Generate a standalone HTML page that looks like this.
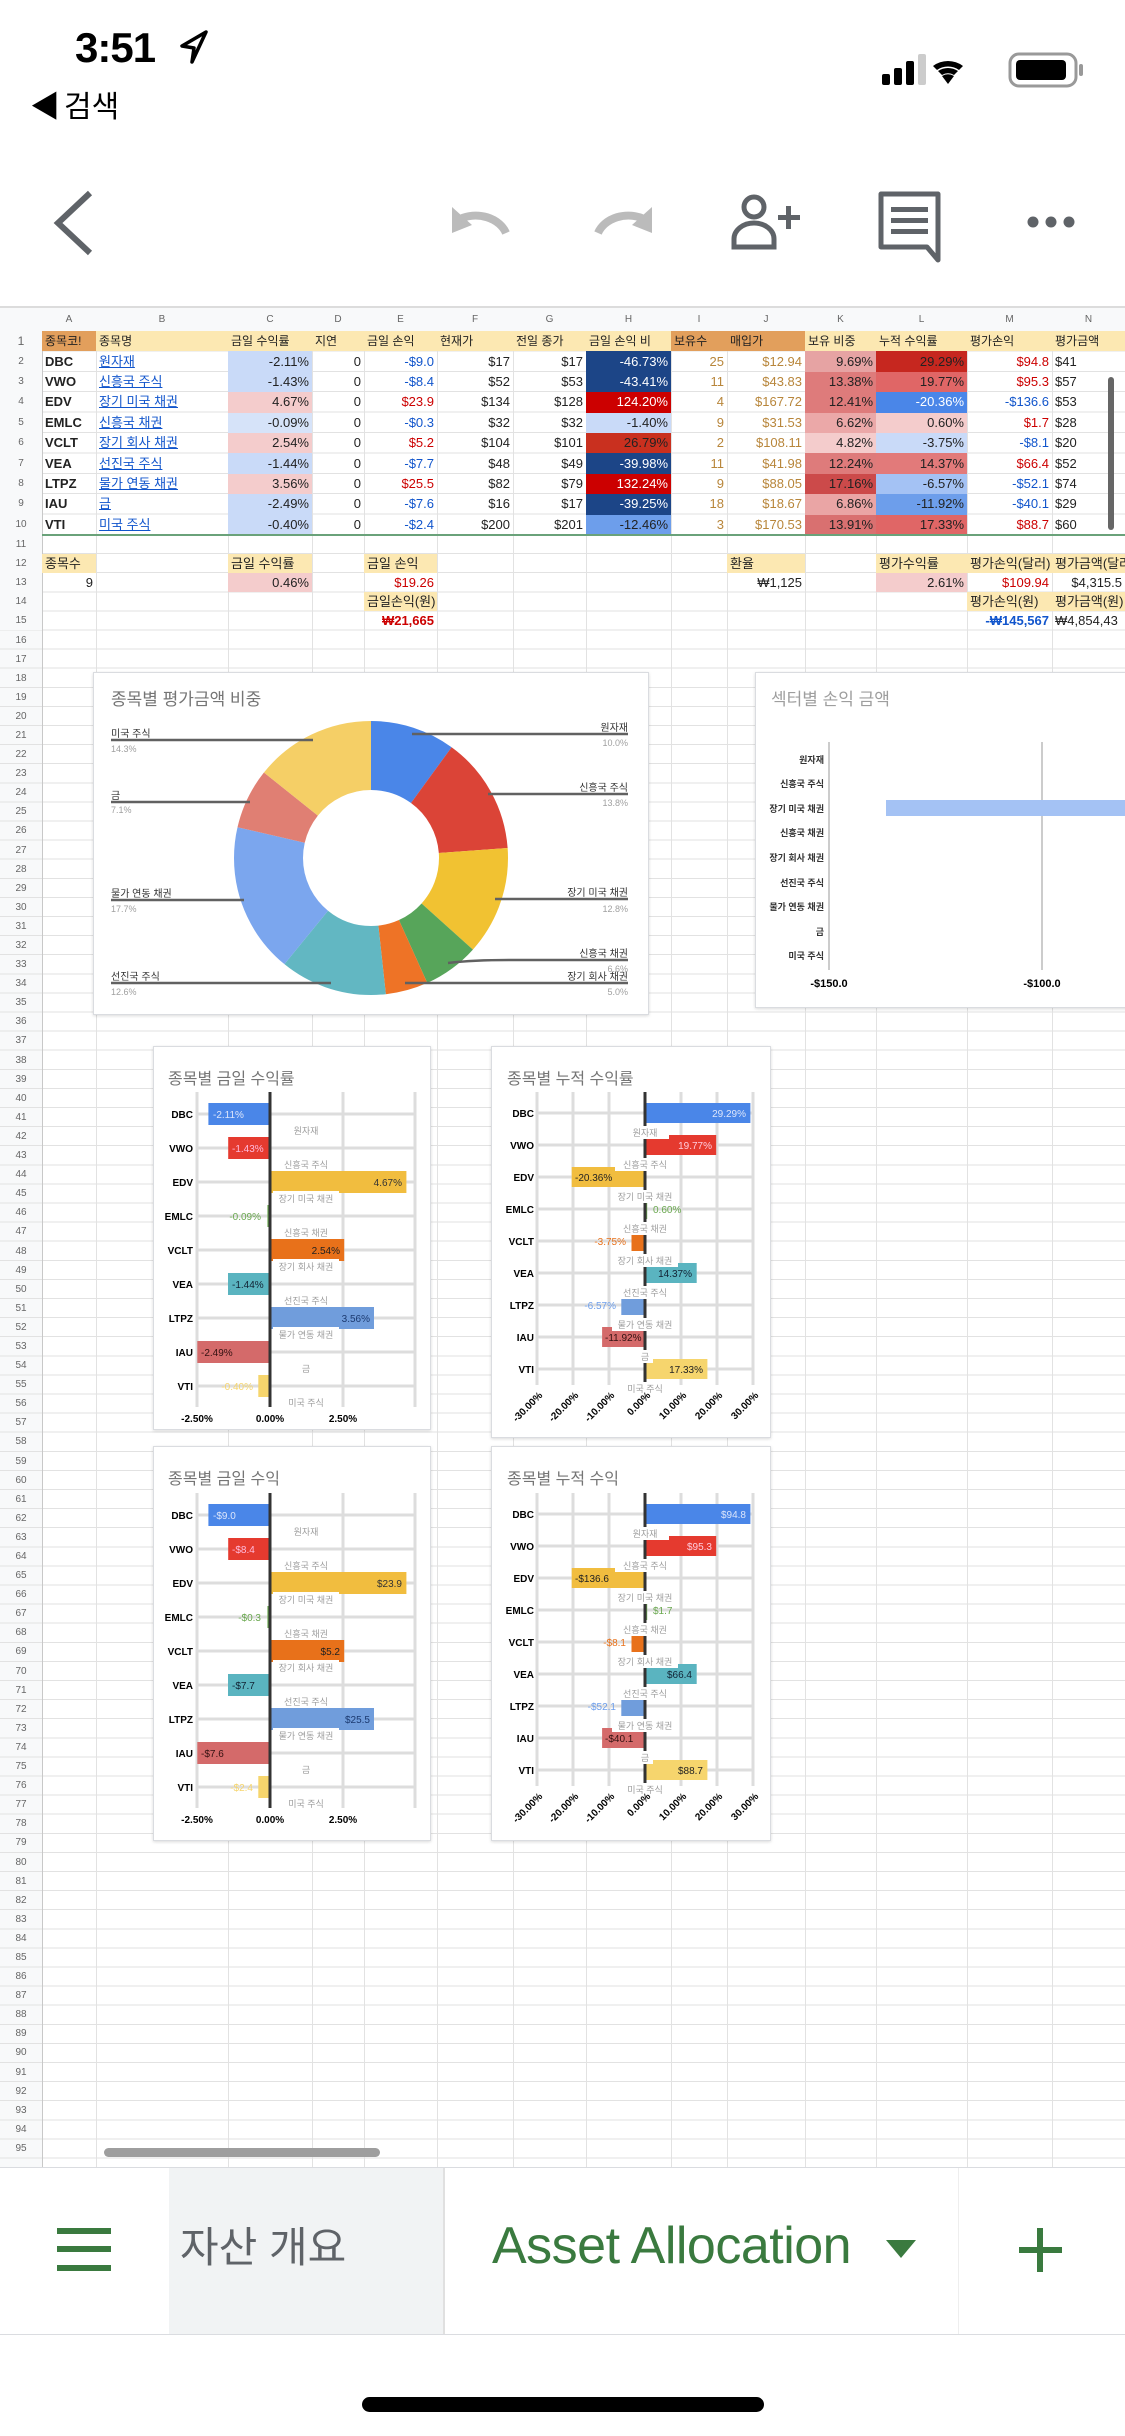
<!DOCTYPE html>
<html><head><meta charset="utf-8">
<style>
*{box-sizing:border-box}
body{margin:0;width:1125px;height:2436px;overflow:hidden;background:#fff;position:relative;font-family:"Liberation Sans","Noto Sans CJK KR",sans-serif}
.a{position:absolute}
.vl{position:absolute;top:308px;height:1859px;width:1px;background:#e2e2e2}
table{border-collapse:collapse;border-spacing:0;table-layout:fixed;position:absolute;left:0}
td{padding:0 3px;white-space:nowrap;overflow:hidden;font-family:"Liberation Sans Narrow","Liberation Sans","Noto Sans CJK KR",sans-serif;font-size:13px;color:#222;line-height:16px}
td.n{text-align:center;font-size:10px;color:#666;background:#f8f9fa;padding:0}
td.r{text-align:right}
.t1 tr{height:20.4px}
.t2 tr{height:19.1px}
.t1 tr:first-child td{font-size:12px}
.hd{background:#fce8b2}
.ho{background:#e29f5c}
.tk{font-weight:bold}
.lk{color:#1155cc;text-decoration:underline}
.bl{color:#1155cc}.rd{color:#cc0000}.br{color:#b8863b}
.card{position:absolute;background:#fff;border:1px solid #dadce0;box-shadow:0 1px 3px rgba(0,0,0,.15)}
svg text{font-family:"Liberation Sans","Noto Sans CJK KR",sans-serif}
</style></head><body>

<!-- status bar -->
<div class="a" style="left:75px;top:24px;font-size:42px;font-weight:bold;letter-spacing:-1px">3:51</div>
<svg class="a" style="left:178px;top:30px" width="32" height="36"><path d="M28 2 L4 16 L16 18 L14 32 Z" fill="none" stroke="#000" stroke-width="3.5" stroke-linejoin="round"/></svg>
<div class="a" style="left:30px;top:82px;font-size:30px;font-family:'Liberation Sans','Noto Sans CJK KR',sans-serif">◀<span style="margin-left:4px">검색</span></div>
<svg class="a" style="left:880px;top:50px" width="210" height="40">
<rect x="2" y="24" width="8" height="11" rx="2"/><rect x="14" y="18" width="8" height="17" rx="2"/><rect x="26" y="11" width="8" height="24" rx="2"/><rect x="38" y="4" width="8" height="31" rx="2" fill="#ccc"/>
<path d="M68 34 L62 26 A12 12 0 0 1 74 26 Z" /><path d="M58 21 A18 18 0 0 1 78 21 L74 25 A12 12 0 0 0 62 25 Z"/><path d="M53 16 A25 25 0 0 1 83 16 L79 20 A19 19 0 0 0 57 20 Z"/>
<rect x="130" y="4" width="66" height="32" rx="9" fill="none" stroke="#999" stroke-width="3"/><rect x="136" y="10" width="50" height="20" rx="4"/><rect x="199" y="14" width="4" height="12" rx="2" fill="#999"/>
</svg>

<!-- toolbar -->
<svg class="a" style="left:40px;top:185px" width="1060" height="80">
<path d="M50 8 L18 38 L50 68" fill="none" stroke="#5f6368" stroke-width="6"/>
<path d="M412 48 L412 22 L432 40 Z" fill="#bbb"/><path d="M420 34 A32 26 0 0 1 466 48" fill="none" stroke="#bbb" stroke-width="8"/>
<path d="M612 48 L612 22 L592 40 Z" fill="#bbb"/><path d="M604 34 A32 26 0 0 0 558 48" fill="none" stroke="#bbb" stroke-width="8"/>
<circle cx="714" cy="22" r="10" fill="none" stroke="#5f6368" stroke-width="5"/><path d="M694 62 L694 54 A20 16 0 0 1 734 54 L734 62 Z" fill="none" stroke="#5f6368" stroke-width="5"/><rect x="738" y="30" width="22" height="5" fill="#5f6368"/><rect x="746" y="21" width="5" height="23" fill="#5f6368"/>
<path d="M841 9 L898 9 L898 62 L898 75 L887 62 L841 62 Z" fill="none" stroke="#5f6368" stroke-width="5" stroke-linejoin="round"/><rect x="851" y="22" width="37" height="5" fill="#5f6368"/><rect x="851" y="33" width="37" height="5" fill="#5f6368"/><rect x="851" y="44" width="37" height="5" fill="#5f6368"/>
<circle cx="993" cy="37" r="5.5" fill="#5f6368"/><circle cx="1011" cy="37" r="5.5" fill="#5f6368"/><circle cx="1029" cy="37" r="5.5" fill="#5f6368"/>
</svg>

<!-- sheet background -->
<div class="a" style="left:0;top:306px;width:1125px;height:2px;background:#dcdcdc"></div>
<div class="a" style="left:0;top:308px;width:1125px;height:23px;background:#f8f9fa;border-bottom:1px solid #c8c8c8"></div>
<div class="a" style="left:0;top:308px;width:42px;height:1859px;background:#f8f9fa"></div>
<div class="a" style="left:0;top:331px;width:1125px;height:204px;background:repeating-linear-gradient(to bottom,transparent 0,transparent 19.4px,#e2e2e2 19.4px,#e2e2e2 20.4px)"></div>
<div class="a" style="left:0;top:535px;width:1125px;height:1632px;background:repeating-linear-gradient(to bottom,transparent 0,transparent 18.1px,#e2e2e2 18.1px,#e2e2e2 19.1px)"></div>
<div class="vl" style="left:42px;background:#c8c8c8"></div><div class="vl" style="left:96px"></div><div class="vl" style="left:228px"></div><div class="vl" style="left:312px"></div><div class="vl" style="left:364px"></div><div class="vl" style="left:437px"></div><div class="vl" style="left:513px"></div><div class="vl" style="left:586px"></div><div class="vl" style="left:671px"></div><div class="vl" style="left:727px"></div><div class="vl" style="left:805px"></div><div class="vl" style="left:876px"></div><div class="vl" style="left:967px"></div><div class="vl" style="left:1052px"></div>

<!-- column letters -->
<table style="top:308px;width:1125px">
<colgroup><col style="width:42px"><col style="width:54px"><col style="width:132px"><col style="width:84px"><col style="width:52px"><col style="width:73px"><col style="width:76px"><col style="width:73px"><col style="width:85px"><col style="width:56px"><col style="width:78px"><col style="width:71px"><col style="width:91px"><col style="width:85px"><col style="width:73px"></colgroup>
<tr style="height:23px"><td class="n"></td><td class="n">A</td><td class="n">B</td><td class="n">C</td><td class="n">D</td><td class="n">E</td><td class="n">F</td><td class="n">G</td><td class="n">H</td><td class="n">I</td><td class="n">J</td><td class="n">K</td><td class="n">L</td><td class="n">M</td><td class="n">N</td></tr>
</table>

<table class="t1" style="top:331px;width:1125px">
<colgroup><col style="width:42px"><col style="width:54px"><col style="width:132px"><col style="width:84px"><col style="width:52px"><col style="width:73px"><col style="width:76px"><col style="width:73px"><col style="width:85px"><col style="width:56px"><col style="width:78px"><col style="width:71px"><col style="width:91px"><col style="width:85px"><col style="width:73px"></colgroup>
<tr><td class="n">1</td><td class="ho">종목코!</td><td class="hd">종목명</td><td class="hd">금일 수익률</td><td class="hd">지연</td><td class="hd">금일 손익</td><td class="hd">현재가</td><td class="hd">전일 종가</td><td class="hd">금일 손익 비</td><td class="ho">보유수</td><td class="ho">매입가</td><td class="hd">보유 비중</td><td class="hd">누적 수익률</td><td class="hd">평가손익</td><td class="hd">평가금액</td></tr>
<tr><td class="n">2</td><td class="tk">DBC</td><td class="lk">원자재</td><td class="r" style="background:#c9daf8">-2.11%</td><td class="r">0</td><td class="r bl">-$9.0</td><td class="r">$17</td><td class="r">$17</td><td class="r" style="background:#1c4587;color:#fff">-46.73%</td><td class="r br">25</td><td class="r br">$12.94</td><td class="r" style="background:#e6a3a3">9.69%</td><td class="r" style="background:#c6271f">29.29%</td><td class="r rd">$94.8</td><td>$41</td></tr>
<tr><td class="n">3</td><td class="tk">VWO</td><td class="lk">신흥국 주식</td><td class="r" style="background:#c9daf8">-1.43%</td><td class="r">0</td><td class="r bl">-$8.4</td><td class="r">$52</td><td class="r">$53</td><td class="r" style="background:#1c4587;color:#fff">-43.41%</td><td class="r br">11</td><td class="r br">$43.83</td><td class="r" style="background:#de7b7b">13.38%</td><td class="r" style="background:#e06666">19.77%</td><td class="r rd">$95.3</td><td>$57</td></tr>
<tr><td class="n">4</td><td class="tk">EDV</td><td class="lk">장기 미국 채권</td><td class="r" style="background:#f4cccc">4.67%</td><td class="r">0</td><td class="r rd">$23.9</td><td class="r">$134</td><td class="r">$128</td><td class="r" style="background:#c00;color:#fff">124.20%</td><td class="r br">4</td><td class="r br">$167.72</td><td class="r" style="background:#de7b7b">12.41%</td><td class="r" style="background:#4a86e8;color:#fff">-20.36%</td><td class="r bl">-$136.6</td><td>$53</td></tr>
<tr><td class="n">5</td><td class="tk">EMLC</td><td class="lk">신흥국 채권</td><td class="r" style="background:#d6e3f9">-0.09%</td><td class="r">0</td><td class="r bl">-$0.3</td><td class="r">$32</td><td class="r">$32</td><td class="r" style="background:#c9daf8">-1.40%</td><td class="r br">9</td><td class="r br">$31.53</td><td class="r" style="background:#eba8a8">6.62%</td><td class="r" style="background:#f4cccc">0.60%</td><td class="r rd">$1.7</td><td>$28</td></tr>
<tr><td class="n">6</td><td class="tk">VCLT</td><td class="lk">장기 회사 채권</td><td class="r" style="background:#f4cccc">2.54%</td><td class="r">0</td><td class="r rd">$5.2</td><td class="r">$104</td><td class="r">$101</td><td class="r" style="background:#c9301f">26.79%</td><td class="r br">2</td><td class="r br">$108.11</td><td class="r" style="background:#f4cccc">4.82%</td><td class="r" style="background:#c9daf8">-3.75%</td><td class="r bl">-$8.1</td><td>$20</td></tr>
<tr><td class="n">7</td><td class="tk">VEA</td><td class="lk">선진국 주식</td><td class="r" style="background:#c9daf8">-1.44%</td><td class="r">0</td><td class="r bl">-$7.7</td><td class="r">$48</td><td class="r">$49</td><td class="r" style="background:#1c4587;color:#fff">-39.98%</td><td class="r br">11</td><td class="r br">$41.98</td><td class="r" style="background:#de7b7b">12.24%</td><td class="r" style="background:#e27a7a">14.37%</td><td class="r rd">$66.4</td><td>$52</td></tr>
<tr><td class="n">8</td><td class="tk">LTPZ</td><td class="lk">물가 연동 채권</td><td class="r" style="background:#f4cccc">3.56%</td><td class="r">0</td><td class="r rd">$25.5</td><td class="r">$82</td><td class="r">$79</td><td class="r" style="background:#c00;color:#fff">132.24%</td><td class="r br">9</td><td class="r br">$88.05</td><td class="r" style="background:#cc4a4a">17.16%</td><td class="r" style="background:#a4c2f4">-6.57%</td><td class="r bl">-$52.1</td><td>$74</td></tr>
<tr><td class="n">9</td><td class="tk">IAU</td><td class="lk">금</td><td class="r" style="background:#c9daf8">-2.49%</td><td class="r">0</td><td class="r bl">-$7.6</td><td class="r">$16</td><td class="r">$17</td><td class="r" style="background:#1c4587;color:#fff">-39.25%</td><td class="r br">18</td><td class="r br">$18.67</td><td class="r" style="background:#eaa5a5">6.86%</td><td class="r" style="background:#6d9eeb">-11.92%</td><td class="r bl">-$40.1</td><td>$29</td></tr>
<tr><td class="n">10</td><td class="tk">VTI</td><td class="lk">미국 주식</td><td class="r" style="background:#c9daf8">-0.40%</td><td class="r">0</td><td class="r bl">-$2.4</td><td class="r">$200</td><td class="r">$201</td><td class="r" style="background:#6d9eeb">-12.46%</td><td class="r br">3</td><td class="r br">$170.53</td><td class="r" style="background:#d97070">13.91%</td><td class="r" style="background:#e06666">17.33%</td><td class="r rd">$88.7</td><td>$60</td></tr>
</table>
<div class="a" style="left:42px;top:534px;width:1083px;height:2px;background:#6aa27a"></div>
<div class="a" style="left:1108px;top:377px;width:6px;height:153px;background:#666;border-radius:3px"></div>

<table class="t2" style="top:535px;width:1125px">
<colgroup><col style="width:42px"><col style="width:54px"><col style="width:132px"><col style="width:84px"><col style="width:52px"><col style="width:73px"><col style="width:76px"><col style="width:73px"><col style="width:85px"><col style="width:56px"><col style="width:78px"><col style="width:71px"><col style="width:91px"><col style="width:85px"><col style="width:73px"></colgroup>
<tr><td class="n">11</td><td></td><td></td><td></td><td></td><td></td><td></td><td></td><td></td><td></td><td></td><td></td><td></td><td></td><td></td></tr>
<tr><td class="n">12</td><td class="hd">종목수</td><td></td><td class="hd">금일 수익률</td><td></td><td class="hd">금일 손익</td><td></td><td></td><td></td><td></td><td class="hd">환율</td><td></td><td class="hd">평가수익률</td><td class="hd">평가손익(달러)</td><td class="hd">평가금액(달러)</td></tr>
<tr><td class="n">13</td><td class="r">9</td><td></td><td class="r" style="background:#f4cccc">0.46%</td><td></td><td class="r rd">$19.26</td><td></td><td></td><td></td><td></td><td class="r">₩1,125</td><td></td><td class="r" style="background:#f4cccc">2.61%</td><td class="r rd">$109.94</td><td class="r">$4,315.5</td></tr>
<tr><td class="n">14</td><td></td><td></td><td></td><td></td><td class="hd">금일손익(원)</td><td></td><td></td><td></td><td></td><td></td><td></td><td></td><td class="hd">평가손익(원)</td><td class="hd">평가금액(원)</td></tr>
<tr><td class="n">15</td><td></td><td></td><td></td><td></td><td class="r rd" style="font-weight:bold">₩21,665</td><td></td><td></td><td></td><td></td><td></td><td></td><td></td><td class="r bl" style="font-weight:bold">-₩145,567</td><td>₩4,854,43</td></tr>
</table>

<div class="a" style="left:0;top:630.5px;width:42px;text-align:center;font-size:10px;color:#666;line-height:19.1px;font-family:'Liberation Sans Narrow','Liberation Sans',sans-serif">16<br>17<br>18<br>19<br>20<br>21<br>22<br>23<br>24<br>25<br>26<br>27<br>28<br>29<br>30<br>31<br>32<br>33<br>34<br>35<br>36<br>37<br>38<br>39<br>40<br>41<br>42<br>43<br>44<br>45<br>46<br>47<br>48<br>49<br>50<br>51<br>52<br>53<br>54<br>55<br>56<br>57<br>58<br>59<br>60<br>61<br>62<br>63<br>64<br>65<br>66<br>67<br>68<br>69<br>70<br>71<br>72<br>73<br>74<br>75<br>76<br>77<br>78<br>79<br>80<br>81<br>82<br>83<br>84<br>85<br>86<br>87<br>88<br>89<br>90<br>91<br>92<br>93<br>94<br>95</div>

<!-- Pie chart -->
<div class="card" style="left:93px;top:672px;width:556px;height:343px">
<svg width="556" height="343" style="position:absolute;left:-1px;top:-1px">
<text x="18" y="33" font-size="17" fill="#757575">종목별 평가금액 비중</text>
<g transform="rotate(-90 278 186)" fill="none" stroke-width="69">
<circle cx="278" cy="186" r="102.5" stroke="#4a86e8" stroke-dasharray="64.47 644.03" stroke-dashoffset="0"/>
<circle cx="278" cy="186" r="102.5" stroke="#db4437" stroke-dasharray="88.97 644.03" stroke-dashoffset="-64.47"/>
<circle cx="278" cy="186" r="102.5" stroke="#f1c232" stroke-dasharray="82.52 644.03" stroke-dashoffset="-153.44"/>
<circle cx="278" cy="186" r="102.5" stroke="#57a55a" stroke-dasharray="42.55 644.03" stroke-dashoffset="-235.96"/>
<circle cx="278" cy="186" r="102.5" stroke="#ee7326" stroke-dasharray="32.23 644.03" stroke-dashoffset="-278.51"/>
<circle cx="278" cy="186" r="102.5" stroke="#62b7c2" stroke-dasharray="81.23 644.03" stroke-dashoffset="-310.74"/>
<circle cx="278" cy="186" r="102.5" stroke="#7ba6ee" stroke-dasharray="114.11 644.03" stroke-dashoffset="-391.97"/>
<circle cx="278" cy="186" r="102.5" stroke="#e07f73" stroke-dasharray="45.77 644.03" stroke-dashoffset="-506.08"/>
<circle cx="278" cy="186" r="102.5" stroke="#f5cf66" stroke-dasharray="92.2 644.03" stroke-dashoffset="-551.85"/>
</g>
<g stroke="#616161" stroke-width="2.5" fill="none">
<path d="M18 68 H220"/><path d="M18 130 H157"/><path d="M18 228 H151"/><path d="M18 311 H238"/>
<path d="M319 62 H535"/><path d="M395 122 H535"/><path d="M402 227 H535"/><path d="M355 291 Q380 288 416 288 H535"/><path d="M312 311 H535"/>
</g>
<g font-size="10" fill="#333">
<text x="18" y="65">미국 주식</text><text x="18" y="127">금</text><text x="18" y="225">물가 연동 채권</text><text x="18" y="308">선진국 주식</text>
<g text-anchor="end"><text x="535" y="59">원자재</text><text x="535" y="119">신흥국 주식</text><text x="535" y="224">장기 미국 채권</text><text x="535" y="285">신흥국 채권</text><text x="535" y="308">장기 회사 채권</text></g>
</g>
<g font-size="9" fill="#a0a0a0">
<text x="18" y="80">14.3%</text><text x="18" y="141">7.1%</text><text x="18" y="240">17.7%</text><text x="18" y="323">12.6%</text>
<g text-anchor="end"><text x="535" y="74">10.0%</text><text x="535" y="134">13.8%</text><text x="535" y="240">12.8%</text><text x="535" y="300">6.6%</text><text x="535" y="323">5.0%</text></g>
</g>
</svg></div>

<!-- sector chart -->
<div class="card" style="left:755px;top:672px;width:380px;height:336px">
<svg width="380" height="336" style="position:absolute;left:-1px;top:-1px">
<text x="16" y="33" font-size="17" fill="#9e9e9e">섹터별 손익 금액</text>
<line x1="74" y1="70" x2="74" y2="298" stroke="#ccc" stroke-width="2"/>
<line x1="287" y1="70" x2="287" y2="298" stroke="#ccc" stroke-width="2"/>
<rect x="131" y="128" width="250" height="16" fill="#a4c2f4"/>
<g font-size="9" fill="#333" text-anchor="end" font-weight="bold">
<text x="69" y="91">원자재</text><text x="69" y="115">신흥국 주식</text><text x="69" y="140">장기 미국 채권</text><text x="69" y="164">신흥국 채권</text><text x="69" y="189">장기 회사 채권</text><text x="69" y="214">선진국 주식</text><text x="69" y="238">물가 연동 채권</text><text x="69" y="263">금</text><text x="69" y="287">미국 주식</text>
</g>
<g font-size="11" font-weight="bold" text-anchor="middle"><text x="74" y="315">-$150.0</text><text x="287" y="315">-$100.0</text></g>
</svg></div>

<!-- Chart A -->
<div class="card" style="left:153px;top:1046px;width:278px;height:384px">
<svg width="278" height="384" style="position:absolute;left:-1px;top:-1px">
<text x="15" y="38" font-size="16" fill="#757575">종목별 금일 수익률</text>
<g id="gA">
<g stroke="#ddd" stroke-width="3"><line x1="44" y1="46" x2="44" y2="361"/><line x1="190" y1="46" x2="190" y2="361"/><line x1="262" y1="46" x2="262" y2="361"/>
<path d="M44 68H262M44 102H262M44 136H262M44 170H262M44 204H262M44 238H262M44 272H262M44 306H262M44 340H262"/></g>
<rect x="55.4" y="57" width="61.6" height="22" fill="#4a86e8"/>
<rect x="75.2" y="91" width="41.8" height="22" fill="#e53a2f"/>
<rect x="117" y="125" width="136.4" height="22" fill="#f1bd3f"/>
<rect x="114.4" y="159" width="2.6" height="22" fill="#6aa84f"/>
<rect x="117" y="193" width="74.2" height="22" fill="#e8711a"/>
<rect x="75" y="227" width="42" height="22" fill="#5ab4c0"/>
<rect x="117" y="261" width="104" height="22" fill="#709ddc"/>
<rect x="44.3" y="295" width="72.7" height="22" fill="#d46a6a"/>
<rect x="105.3" y="329" width="11.7" height="22" fill="#f6d56d"/>
<line x1="117" y1="46" x2="117" y2="361" stroke="#333" stroke-width="3"/>
<g fill="#fff"><rect x="123" y="77" width="60" height="13"/><rect x="123" y="111" width="60" height="13"/><rect x="120" y="145" width="66" height="13"/><rect x="123" y="179" width="60" height="13"/><rect x="120" y="213" width="66" height="13"/><rect x="123" y="247" width="60" height="13"/><rect x="120" y="281" width="66" height="13"/><rect x="143" y="315" width="20" height="13"/><rect x="130" y="349" width="46" height="13"/></g>
</g>
<g font-size="9" fill="#9e9e9e" text-anchor="middle"><text x="153" y="88">원자재</text><text x="153" y="122">신흥국 주식</text><text x="153" y="156">장기 미국 채권</text><text x="153" y="190">신흥국 채권</text><text x="153" y="224">장기 회사 채권</text><text x="153" y="258">선진국 주식</text><text x="153" y="292">물가 연동 채권</text><text x="153" y="326">금</text><text x="153" y="360">미국 주식</text></g>
<g font-size="10" font-weight="bold" text-anchor="end"><text x="40" y="72">DBC</text><text x="40" y="106">VWO</text><text x="40" y="140">EDV</text><text x="40" y="174">EMLC</text><text x="40" y="208">VCLT</text><text x="40" y="242">VEA</text><text x="40" y="276">LTPZ</text><text x="40" y="310">IAU</text><text x="40" y="344">VTI</text></g>
<g font-size="10" font-weight="bold" text-anchor="middle"><text x="44" y="376">-2.50%</text><text x="117" y="376">0.00%</text><text x="190" y="376">2.50%</text></g>
<g font-size="10"><text x="60" y="72" fill="#dde6fb">-2.11%</text><text x="79" y="106" fill="#fbd">-1.43%</text><text x="249" y="140" text-anchor="end" fill="#333">4.67%</text><text x="108" y="174" text-anchor="end" fill="#6aa84f">-0.09%</text><text x="187" y="208" text-anchor="end" fill="#222">2.54%</text><text x="79" y="242" fill="#123">-1.44%</text><text x="217" y="276" text-anchor="end" fill="#1c3a70">3.56%</text><text x="48" y="310" fill="#311">-2.49%</text><text x="100" y="344" text-anchor="end" fill="#f6d56d">-0.40%</text></g>
</svg></div>

<!-- Chart B -->
<div class="card" style="left:491px;top:1046px;width:280px;height:392px">
<svg width="280" height="392" style="position:absolute;left:-1px;top:-1px">
<text x="16" y="38" font-size="16" fill="#757575">종목별 누적 수익률</text>
<g id="gB">
<g stroke="#ddd" stroke-width="3"><line x1="46" y1="46" x2="46" y2="339"/><line x1="82" y1="46" x2="82" y2="339"/><line x1="118" y1="46" x2="118" y2="339"/><line x1="190" y1="46" x2="190" y2="339"/><line x1="226" y1="46" x2="226" y2="339"/><line x1="262" y1="46" x2="262" y2="339"/>
<path d="M46 67H262M46 99H262M46 131H262M46 163H262M46 195H262M46 227H262M46 259H262M46 291H262M46 323H262"/></g>
<rect x="154" y="57" width="105.4" height="20" fill="#4a86e8"/>
<rect x="154" y="89" width="71.2" height="20" fill="#e53a2f"/>
<rect x="80.7" y="121" width="73.3" height="20" fill="#f1bd3f"/>
<rect x="154" y="153" width="2.2" height="20" fill="#6aa84f"/>
<rect x="140.5" y="185" width="13.5" height="20" fill="#e8711a"/>
<rect x="154" y="217" width="51.7" height="20" fill="#5ab4c0"/>
<rect x="130.3" y="249" width="23.7" height="20" fill="#709ddc"/>
<rect x="111.1" y="281" width="42.9" height="20" fill="#d46a6a"/>
<rect x="154" y="313" width="62.4" height="20" fill="#f6d56d"/>
<line x1="154" y1="46" x2="154" y2="339" stroke="#333" stroke-width="3"/>
<g fill="#fff"><rect x="130" y="80" width="48" height="13"/><rect x="124" y="112" width="60" height="13"/><rect x="121" y="144" width="66" height="13"/><rect x="124" y="176" width="60" height="13"/><rect x="121" y="208" width="66" height="13"/><rect x="124" y="240" width="60" height="13"/><rect x="121" y="272" width="66" height="13"/><rect x="146" y="304" width="16" height="13"/><rect x="130" y="336" width="48" height="12"/></g>
</g>
<g font-size="9" fill="#9e9e9e" text-anchor="middle"><text x="154" y="90">원자재</text><text x="154" y="122">신흥국 주식</text><text x="154" y="154">장기 미국 채권</text><text x="154" y="186">신흥국 채권</text><text x="154" y="218">장기 회사 채권</text><text x="154" y="250">선진국 주식</text><text x="154" y="282">물가 연동 채권</text><text x="154" y="314">금</text><text x="154" y="346">미국 주식</text></g>
<g font-size="10" font-weight="bold" text-anchor="end"><text x="43" y="71">DBC</text><text x="43" y="103">VWO</text><text x="43" y="135">EDV</text><text x="43" y="167">EMLC</text><text x="43" y="199">VCLT</text><text x="43" y="231">VEA</text><text x="43" y="263">LTPZ</text><text x="43" y="295">IAU</text><text x="43" y="327">VTI</text></g>
<g font-size="10" font-weight="bold" text-anchor="end"><text transform="translate(52,350) rotate(-45)">-30.00%</text><text transform="translate(88,350) rotate(-45)">-20.00%</text><text transform="translate(124,350) rotate(-45)">-10.00%</text><text transform="translate(160,350) rotate(-45)">0.00%</text><text transform="translate(196,350) rotate(-45)">10.00%</text><text transform="translate(232,350) rotate(-45)">20.00%</text><text transform="translate(268,350) rotate(-45)">30.00%</text></g>
<g font-size="10"><text x="255" y="71" text-anchor="end" fill="#dde6fb">29.29%</text><text x="221" y="103" text-anchor="end" fill="#fcd">19.77%</text><text x="84" y="135" fill="#222">-20.36%</text><text x="162" y="167" fill="#6aa84f">0.60%</text><text x="135" y="199" text-anchor="end" fill="#e8711a">-3.75%</text><text x="201" y="231" text-anchor="end" fill="#123">14.37%</text><text x="125" y="263" text-anchor="end" fill="#6d9eeb">-6.57%</text><text x="114" y="295" fill="#311">-11.92%</text><text x="212" y="327" text-anchor="end" fill="#222">17.33%</text></g>
</svg></div>

<!-- Chart C -->
<div class="card" style="left:153px;top:1446px;width:278px;height:395px">
<svg width="278" height="395" style="position:absolute;left:-1px;top:-1px">
<text x="15" y="38" font-size="16" fill="#757575">종목별 금일 수익</text>
<use href="#gA" y="1"/>
<g font-size="9" fill="#9e9e9e" text-anchor="middle" transform="translate(0,1)"><text x="153" y="88">원자재</text><text x="153" y="122">신흥국 주식</text><text x="153" y="156">장기 미국 채권</text><text x="153" y="190">신흥국 채권</text><text x="153" y="224">장기 회사 채권</text><text x="153" y="258">선진국 주식</text><text x="153" y="292">물가 연동 채권</text><text x="153" y="326">금</text><text x="153" y="360">미국 주식</text></g>
<g font-size="10" font-weight="bold" text-anchor="end" transform="translate(0,1)"><text x="40" y="72">DBC</text><text x="40" y="106">VWO</text><text x="40" y="140">EDV</text><text x="40" y="174">EMLC</text><text x="40" y="208">VCLT</text><text x="40" y="242">VEA</text><text x="40" y="276">LTPZ</text><text x="40" y="310">IAU</text><text x="40" y="344">VTI</text></g>
<g font-size="10" font-weight="bold" text-anchor="middle"><text x="44" y="377">-2.50%</text><text x="117" y="377">0.00%</text><text x="190" y="377">2.50%</text></g>
<g font-size="10" transform="translate(0,1)"><text x="60" y="72" fill="#dde6fb">-$9.0</text><text x="79" y="106" fill="#fbd">-$8.4</text><text x="249" y="140" text-anchor="end" fill="#333">$23.9</text><text x="108" y="174" text-anchor="end" fill="#6aa84f">-$0.3</text><text x="187" y="208" text-anchor="end" fill="#222">$5.2</text><text x="79" y="242" fill="#123">-$7.7</text><text x="217" y="276" text-anchor="end" fill="#1c3a70">$25.5</text><text x="48" y="310" fill="#311">-$7.6</text><text x="100" y="344" text-anchor="end" fill="#f6d56d">-$2.4</text></g>
</svg></div>

<!-- Chart D -->
<div class="card" style="left:491px;top:1446px;width:280px;height:395px">
<svg width="280" height="395" style="position:absolute;left:-1px;top:-1px">
<text x="16" y="38" font-size="16" fill="#757575">종목별 누적 수익</text>
<use href="#gB" y="1"/>
<g font-size="9" fill="#9e9e9e" text-anchor="middle" transform="translate(0,1)"><text x="154" y="90">원자재</text><text x="154" y="122">신흥국 주식</text><text x="154" y="154">장기 미국 채권</text><text x="154" y="186">신흥국 채권</text><text x="154" y="218">장기 회사 채권</text><text x="154" y="250">선진국 주식</text><text x="154" y="282">물가 연동 채권</text><text x="154" y="314">금</text><text x="154" y="346">미국 주식</text></g>
<g font-size="10" font-weight="bold" text-anchor="end" transform="translate(0,1)"><text x="43" y="71">DBC</text><text x="43" y="103">VWO</text><text x="43" y="135">EDV</text><text x="43" y="167">EMLC</text><text x="43" y="199">VCLT</text><text x="43" y="231">VEA</text><text x="43" y="263">LTPZ</text><text x="43" y="295">IAU</text><text x="43" y="327">VTI</text></g>
<g font-size="10" font-weight="bold" text-anchor="end"><text transform="translate(52,351) rotate(-45)">-30.00%</text><text transform="translate(88,351) rotate(-45)">-20.00%</text><text transform="translate(124,351) rotate(-45)">-10.00%</text><text transform="translate(160,351) rotate(-45)">0.00%</text><text transform="translate(196,351) rotate(-45)">10.00%</text><text transform="translate(232,351) rotate(-45)">20.00%</text><text transform="translate(268,351) rotate(-45)">30.00%</text></g>
<g font-size="10" transform="translate(0,1)"><text x="255" y="71" text-anchor="end" fill="#dde6fb">$94.8</text><text x="221" y="103" text-anchor="end" fill="#fcd">$95.3</text><text x="84" y="135" fill="#222">-$136.6</text><text x="162" y="167" fill="#6aa84f">$1.7</text><text x="135" y="199" text-anchor="end" fill="#e8711a">-$8.1</text><text x="201" y="231" text-anchor="end" fill="#123">$66.4</text><text x="125" y="263" text-anchor="end" fill="#6d9eeb">-$52.1</text><text x="114" y="295" fill="#311">-$40.1</text><text x="212" y="327" text-anchor="end" fill="#222">$88.7</text></g>
</svg></div>

<!-- scrollbar -->
<div class="a" style="left:104px;top:2148px;width:276px;height:9px;background:#9e9e9e;border-radius:5px"></div>

<!-- bottom tab bar -->
<div class="a" style="left:0;top:2167px;width:1125px;height:168px;background:#fff;border-top:1px solid #dadce0;border-bottom:1px solid #dadce0"></div>
<div class="a" style="left:169px;top:2168px;width:276px;height:166px;background:#f1f3f4;border-right:2px solid #e0e0e0"></div>
<div class="a" style="left:958px;top:2168px;width:1px;height:166px;background:#eee"></div>
<div class="a" style="left:57px;top:2228px;width:54px;height:6px;background:#3a7a3f"></div>
<div class="a" style="left:57px;top:2246px;width:54px;height:6px;background:#3a7a3f"></div>
<div class="a" style="left:57px;top:2265px;width:54px;height:6px;background:#3a7a3f"></div>
<div class="a" style="left:180px;top:2218px;font-size:42px;color:#5f6368;font-family:'Liberation Sans','Noto Sans CJK KR',sans-serif;line-height:60px">자산 개요</div>
<div class="a" style="left:492px;top:2216px;font-size:52px;color:#3a7a3f;line-height:60px;letter-spacing:-0.5px">Asset Allocation</div>
<svg class="a" style="left:884px;top:2238px" width="34" height="22"><path d="M2 2 H32 L17 20 Z" fill="#3a7a3f"/></svg>
<div class="a" style="left:1019px;top:2247px;width:43px;height:6px;background:#3a7a3f"></div>
<div class="a" style="left:1037px;top:2228px;width:6px;height:44px;background:#3a7a3f"></div>
<div class="a" style="left:362px;top:2397px;width:402px;height:15px;background:#000;border-radius:8px"></div>
</body></html>
